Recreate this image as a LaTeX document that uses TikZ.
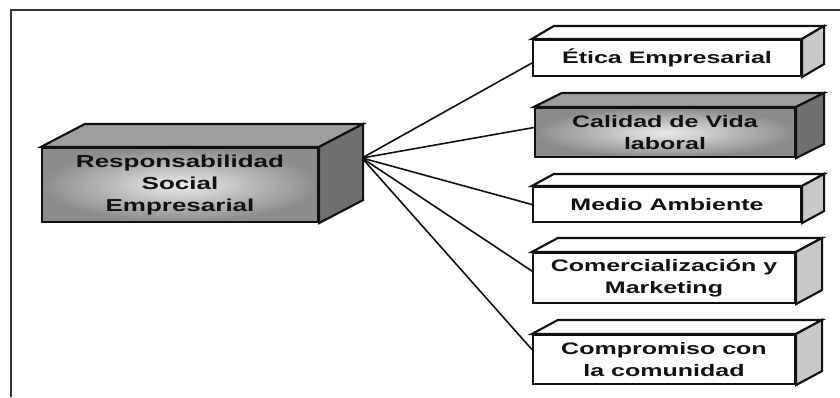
\documentclass[tikz,border=0pt]{standalone}
\usepackage{fontspec}
\setmainfont{Liberation Sans}[FakeStretch=1.5]
\usetikzlibrary{positioning}

\definecolor{inkGray}{HTML}{111111}
\definecolor{topGray}{HTML}{9E9E9E}
\definecolor{sideGray}{HTML}{707070}
\definecolor{sideLight}{HTML}{C8C8C8}
\definecolor{frameGray}{HTML}{333333}

\tikzset{
  front/.style={draw=inkGray, line width=1.6pt, inner sep=0pt, align=center,
                text=inkGray, font=\bfseries\fontsize{12.5}{16.5}\selectfont},
  whiteFront/.style={front, fill=white},
  grayFront/.style={front, inner color=black!8, outer color=black!45},
  face/.style={draw=inkGray, line width=1.6pt},
  link/.style={draw=inkGray, line width=1.2pt}
}

\begin{document}
\begin{tikzpicture}[x=0.75pt, y=0.75pt]

\useasboundingbox (0,0) rectangle (840,-397);

% -- frame --
\draw[frameGray, line width=1.5pt] (11,-397) |- (840,-10);

% -- central box --
\node[grayFront, minimum width=207pt, minimum height=55.5pt,
      font=\bfseries\fontsize{13}{16.5}\selectfont]
      (rse) at (180,-185) {Responsabilidad\\Social\\Empresarial};

% -- branch boxes --
\node[whiteFront, minimum width=201pt, minimum height=27pt]
      (etica) at (667,-58) {Ética Empresarial};
\node[grayFront, minimum width=195pt, minimum height=36.75pt]
      (calidad) at (665,-132.5) {Calidad de Vida\\laboral};
\node[whiteFront, minimum width=201pt, minimum height=26.25pt]
      (medio) at (667,-204.5) {Medio Ambiente};
\node[whiteFront, minimum width=196.5pt, minimum height=37.5pt]
      (comercial) at (664,-278) {Comercialización y\\Marketing};
\node[whiteFront, minimum width=196.5pt, minimum height=36.75pt]
      (comunidad) at (664,-359.5) {Compromiso con\\la comunidad};

% -- connectors --
\coordinate (hubRSE) at (362,-158);
\foreach \n/\off in {etica/-5,calidad/5,medio/0,comercial/7,comunidad/10}
  \draw[link] (hubRSE) -- ([yshift=\off*0.75pt]\n.west);

% -- depth faces --
\foreach \n/\dx/\dy/\top/\side in {rse/44/23/topGray/sideGray,
    etica/22/13/white/sideLight, calidad/28/14/topGray/sideGray,
    medio/22/12/white/sideLight, comercial/26/14/white/sideLight,
    comunidad/26/14/white/sideLight}{
  \draw[face, fill=\top] (\n.north west) -- ([shift={(\dx,\dy)}]\n.north west)
      -- ([shift={(\dx,\dy)}]\n.north east) -- (\n.north east) -- cycle;
  \draw[face, fill=\side] (\n.north east) -- ([shift={(\dx,\dy)}]\n.north east)
      -- ([shift={(\dx,\dy)}]\n.south east) -- (\n.south east) -- cycle;
}

\end{tikzpicture}
\end{document}
